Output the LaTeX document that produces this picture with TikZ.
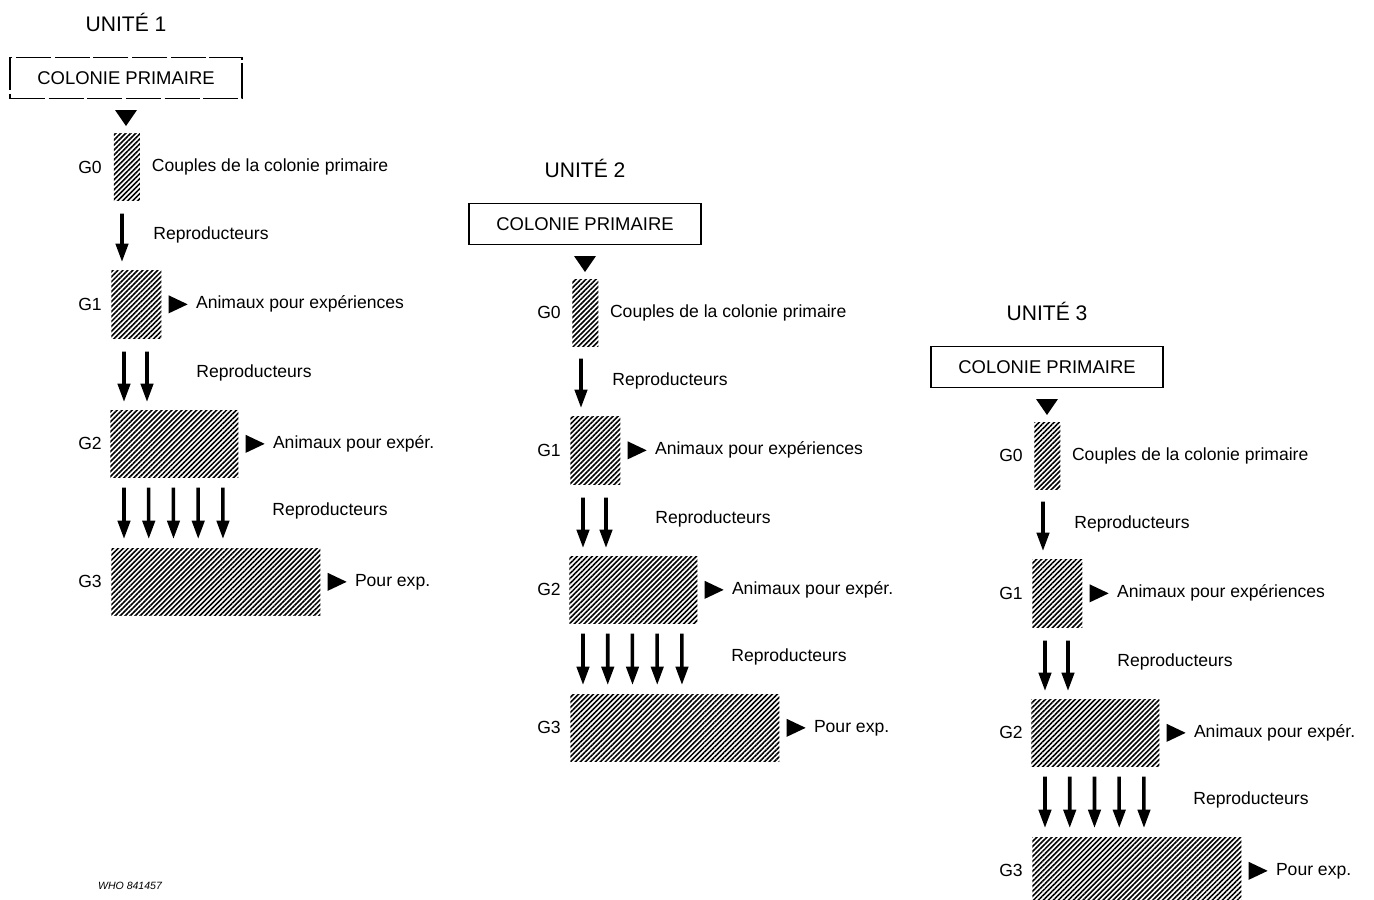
\documentclass[tikz,border=0pt]{standalone}
\usepackage{fontspec}
\setmainfont{Liberation Sans}
\usetikzlibrary{patterns.meta,arrows.meta,positioning}

\tikzset{
  hatch/.style={pattern={Lines[angle=45,distance=2pt,line width=0.9pt]},inner sep=0pt,anchor=north west},
  txt/.style={font=\fontsize{10}{12}\selectfont,inner sep=0pt,anchor=west},
  gen/.style={font=\fontsize{10}{12}\selectfont,inner sep=0pt},
  unite/.style={font=\fontsize{12}{14}\selectfont,inner sep=0pt},
  colbox/.style={draw,line width=0.8pt,minimum width=4.64cm,minimum height=0.82cm,
    inner sep=0pt,font=\fontsize{10.5}{12}\selectfont},
  cpdash/.style={dash pattern=on 20pt off 2pt},
  cpsolid/.style={},
  repro/.style={line width=2pt,-{Triangle[width=7pt,length=10.5pt]}},
}

\begin{document}
\begin{tikzpicture}[x=0.02cm,y=-0.02cm]
\useasboundingbox (0,0) rectangle (1374,900);

\foreach \n/\ux/\uy/\bs in {1/113/133/cpdash, 2/572/279/cpsolid, 3/1034/422/cpsolid}{
  \begin{scope}[shift={(\ux,\uy)}]
    \node[unite] (u\n) at (13,-111) {UNITÉ \n};
    \node[colbox,\bs] (cp\n) at (13,-55) {COLONIE PRIMAIRE};
    \fill (13,-7) -- ++(-11,-16) -- ++(22,0) -- cycle;

    % generations
    \node[hatch,minimum width=0.52cm,minimum height=1.34cm] (g0-\n) at (0,0) {};
    \node[hatch,minimum width=1cm,minimum height=1.36cm] (g1-\n) at (-2,137) {};
    \node[hatch,minimum width=2.56cm,minimum height=1.34cm] (g2-\n) at (-3,277) {};
    \node[hatch,minimum width=4.18cm,minimum height=1.34cm] (g3-\n) at (-2,415) {};
    \foreach \g in {0,...,3}
      \node[gen] (l\g-\n) at (-23,0 |- g\g-\n) {G\g};

    \node[txt] (d0-\n) at ([xshift=0.22cm]g0-\n.east) {Couples de la colonie primaire};
    \foreach \g/\t in {1/Animaux pour expériences, 2/Animaux pour expér., 3/Pour exp.}{
      \fill ([xshift=0.14cm]g\g-\n.east) -- ++(0,9) -- ++(19,-9) -- ++(-19,-9) -- cycle;
      \node[txt] (d\g-\n) at ([xshift=0.68cm]g\g-\n.east) {\t};
    }

    % reproducteurs
    \draw[repro,shorten <=0.24cm,shorten >=0.16cm]
      ([xshift=0.18cm]g0-\n.south west) -- ([xshift=0.22cm]g1-\n.north west);
    \foreach \a in {0,1}
      \draw[repro,shorten <=0.26cm,shorten >=0.16cm]
        ([xshift=0.26cm+\a*0.46cm]g1-\n.south west) -- ([xshift=0.28cm+\a*0.46cm]g2-\n.north west);
    \foreach \a in {0,...,4}
      \draw[repro,shorten <=0.2cm,shorten >=0.18cm]
        ([xshift=0.28cm+\a*0.495cm]g2-\n.south west) -- ([xshift=0.26cm+\a*0.495cm]g3-\n.north west);
    \node[txt] (r1-\n) at (40,102) {Reproducteurs};
    \node[txt] (r2-\n) at (83,240) {Reproducteurs};
    \node[txt] (r3-\n) at (159,378) {Reproducteurs};
  \end{scope}
}

\node[font=\fontsize{6}{7}\selectfont\itshape,inner sep=0pt] (who) at (130,886) {WHO 841457};
\end{tikzpicture}
\end{document}
